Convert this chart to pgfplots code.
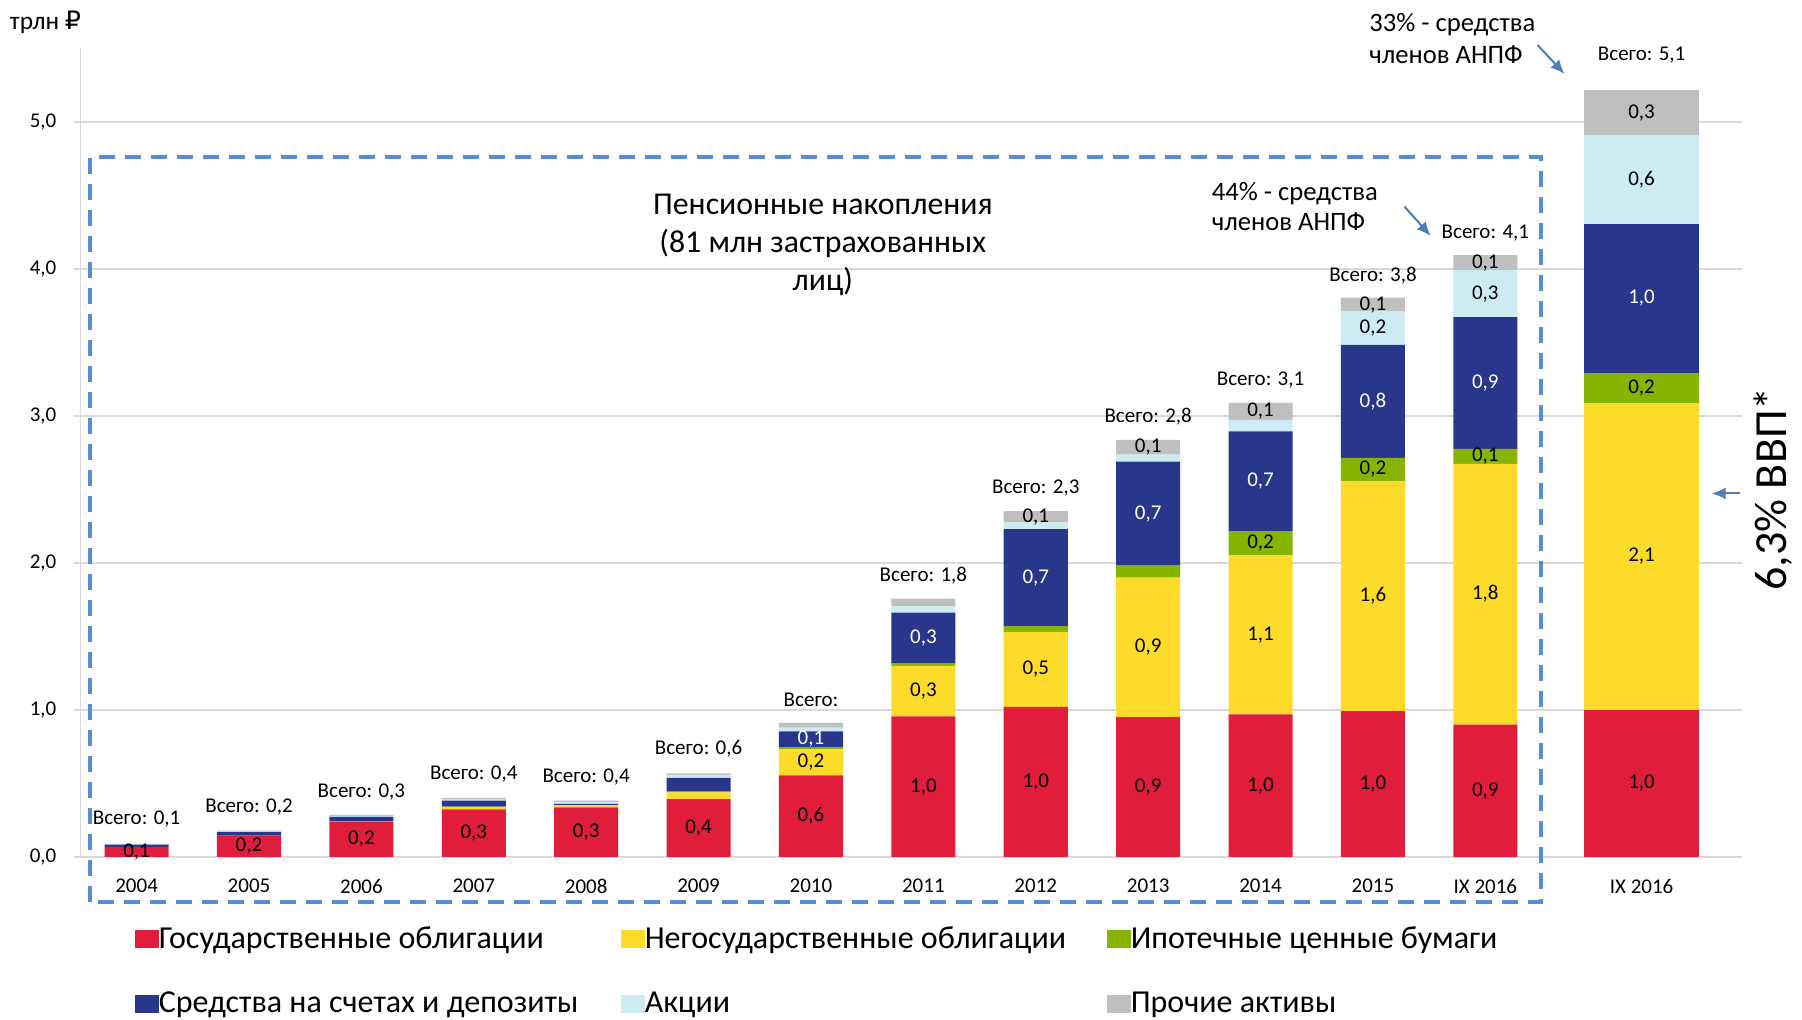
\documentclass[border=0pt]{standalone}
\usepackage{pgfplots}
\pgfplotsset{compat=1.18}
\usepackage{pgfplotstable}
\usepackage{fontspec}
\setmainfont{Carlito}
\newfontfamily\dejavu{DejaVu Sans}
\usetikzlibrary{arrows.meta}
\definecolor{cRed}{HTML}{E01E3C}
\definecolor{cYel}{HTML}{FDDB2A}
\definecolor{cGrn}{HTML}{86B400}
\definecolor{cBlu}{HTML}{28378C}
\definecolor{cLbl}{HTML}{CDEBF3}
\definecolor{cGry}{HTML}{BFBFBF}
\definecolor{gridc}{HTML}{D9D9D9}
\definecolor{annot}{HTML}{4A7EBB}
\definecolor{dashc}{HTML}{558ED5}

\pgfplotstableread{
x red yel grn blu lbl gry
0 0.068 0 0 0.016 0.003 0.003
1 0.146 0 0 0.025 0.004 0.005
2 0.239 0.002 0 0.032 0.006 0.008
3 0.324 0.016 0.002 0.041 0.008 0.012
4 0.337 0.014 0.002 0.008 0.010 0.012
5 0.394 0.045 0.009 0.091 0.016 0.014
6 0.555 0.177 0.016 0.107 0.025 0.032
7 0.956 0.344 0.018 0.344 0.043 0.052
8 1.021 0.510 0.039 0.660 0.046 0.077
9 0.951 0.949 0.082 0.708 0.047 0.100
10 0.971 1.081 0.164 0.679 0.078 0.117
11 0.992 1.565 0.158 0.768 0.228 0.094
12 0.901 1.774 0.101 0.896 0.320 0.102
}\maindata
\pgfplotstableread{
x red yel grn blu lbl gry
13.39 1.000 2.091 0.203 1.013 0.604 0.306
}\lastdata

\pgfplotsset{
  common/.style={
    at={(40.2pt,81.5pt)}, anchor=south west,
    scale only axis, width=830.6pt, height=404.25pt,
    xmin=-0.5, xmax=14.28, ymin=0, ymax=5.5,
    ybar stacked,
  },
}
\newcommand{\vl}[3]{\node[font=\fontsize{10.5}{12}\selectfont] at (axis cs:#1,#2) {#3};}
\newcommand{\vw}[3]{\node[font=\fontsize{10.5}{12}\selectfont, text=white] at (axis cs:#1,#2) {#3};}
\newcommand{\tl}[3]{\node[font=\fontsize{10.5}{12}\selectfont] at (axis cs:#1,#2) {Всего:#3};}

\newcommand{\mainlabels}{%
\vl{0}{0.034}{0,1}
\vl{1}{0.073}{0,2}
\vl{2}{0.12}{0,2}
\vl{3}{0.162}{0,3}
\vl{4}{0.169}{0,3}
\vl{5}{0.197}{0,4}
\vl{6}{0.278}{0,6}\vl{6}{0.644}{0,2}\vw{6}{0.80}{0,1}
\vl{7}{0.478}{1,0}\vl{7}{1.128}{0,3}\vw{7}{1.49}{0,3}
\vl{8}{0.51}{1,0}\vl{8}{1.276}{0,5}\vw{8}{1.90}{0,7}\vl{8}{2.3145}{0,1}
\vl{9}{0.476}{0,9}\vl{9}{1.4255}{0,9}\vw{9}{2.336}{0,7}\vl{9}{2.787}{0,1}
\vl{10}{0.486}{1,0}\vl{10}{1.5115}{1,1}\vl{10}{2.134}{0,2}\vw{10}{2.5555}{0,7}\vl{10}{3.0315}{0,1}
\vl{11}{0.496}{1,0}\vl{11}{1.7745}{1,6}\vl{11}{2.636}{0,2}\vw{11}{3.099}{0,8}\vl{11}{3.597}{0,2}\vl{11}{3.758}{0,1}
\vl{12}{0.4505}{0,9}\vl{12}{1.788}{1,8}\vl{12}{2.7255}{0,1}\vw{12}{3.224}{0,9}\vl{12}{3.832}{0,3}\vl{12}{4.043}{0,1}
\tl{0}{0.259}{ 0,1}
\tl{1}{0.343}{ 0,2}
\tl{2}{0.444}{ 0,3}
\tl{3}{0.562}{ 0,4}
\tl{4}{0.546}{ 0,4}
\tl{5}{0.735}{ 0,6}
\tl{6}{1.070}{}
\tl{7}{1.914}{ 1,8}
\tl{8}{2.510}{ 2,3}
\tl{9}{2.993}{ 2,8}
\tl{10}{3.245}{ 3,1}
\tl{11}{3.954}{ 3,8}
\tl{12}{4.245}{ 4,1}
}
\newcommand{\lastlabels}{%
\vl{13.39}{0.5}{1,0}\vl{13.39}{2.0455}{2,1}\vl{13.39}{3.1925}{0,2}\vw{13.39}{3.8005}{1,0}\vl{13.39}{4.609}{0,6}\vl{13.39}{5.064}{0,3}
\tl{13.39}{5.456}{ 5,1}
}

\begin{document}
\begin{tikzpicture}
\begin{axis}[common,
  bar width=0.57,
  axis lines*=left,
  x axis line style={draw=none},
  y axis line style={draw=gridc, line width=0.75pt},
  ymajorgrids, grid style={draw=gridc, line width=0.75pt},
  tick align=outside, major tick length=3pt,
  ytick={0,1,2,3,4,5},
  ytick style={draw=gridc, line width=0.75pt},
  xtick style={draw=none},
  xtick={0,1,2,3,4,5,6,7,8,9,10,11,12,13.39},
  xticklabels={2004,2005,2006,2007,2008,2009,2010,2011,2012,2013,2014,2015,IX 2016,IX 2016},
  xticklabel style={font=\fontsize{10.5}{12}\selectfont, yshift=-4.6pt},
  yticklabel style={font=\fontsize{10.5}{12}\selectfont, xshift=-5.5pt, /pgf/number format/.cd, use comma, fixed, fixed zerofill, precision=1, assume math mode=true},
  legend columns=3,
  legend image code/.code={\fill[#1] (0pt,-4.5pt) rectangle (7.5pt,4.5pt); \path (0pt,-4.5pt) rectangle (12pt,4.5pt);},
  legend style={at={(0.0325,-0.086)}, anchor=north west, draw=none, fill=none, inner sep=0pt,
    nodes={inner sep=0pt, font=\fontsize{16}{19}\selectfont}, row sep=20pt, column sep=0pt},
  legend cell align=left,
  after end axis/.code={\mainlabels},
]
\addplot[fill=cRed, draw=none] table[x=x,y=red]{\maindata};
\addlegendentry{\makebox[231pt][l]{Государственные облигации}}
\addplot[fill=cYel, draw=none] table[x=x,y=yel]{\maindata};
\addlegendentry{\makebox[231pt][l]{Негосударственные облигации}}
\addplot[fill=cGrn, draw=none] table[x=x,y=grn]{\maindata};
\addlegendentry{\makebox[231pt][l]{Ипотечные ценные бумаги}}
\addplot[fill=cBlu, draw=none] table[x=x,y=blu]{\maindata};
\addlegendentry{\makebox[231pt][l]{Средства на счетах и депозиты}}
\addplot[fill=cLbl, draw=none] table[x=x,y=lbl]{\maindata};
\addlegendentry{\makebox[231pt][l]{Акции}}
\addplot[fill=cGry, draw=none] table[x=x,y=gry]{\maindata};
\addlegendentry{\makebox[231pt][l]{Прочие активы}}
\end{axis}

\begin{axis}[common, hide axis, bar width=1.02, after end axis/.code={\lastlabels}]
\addplot[fill=cRed, draw=none] table[x=x,y=red]{\lastdata};
\addplot[fill=cYel, draw=none] table[x=x,y=yel]{\lastdata};
\addplot[fill=cGrn, draw=none] table[x=x,y=grn]{\lastdata};
\addplot[fill=cBlu, draw=none] table[x=x,y=blu]{\lastdata};
\addplot[fill=cLbl, draw=none] table[x=x,y=lbl]{\lastdata};
\addplot[fill=cGry, draw=none] table[x=x,y=gry]{\lastdata};
\end{axis}

\draw[dashc, line width=2pt, dash pattern=on 8pt off 5pt] (44.8pt,59pt) rectangle (770.5pt,431.3pt);

\node[anchor=west, inner sep=0pt, font=\fontsize{12.7}{14}\selectfont] at (4.8pt,499pt) {трлн {\dejavu ₽}};
\node[align=center, inner sep=0pt, font=\fontsize{15.9}{19}\selectfont] at (411.4pt,387.7pt) {Пенсионные накопления\\(81 млн застрахованных\\лиц)};
\node[anchor=west, align=left, inner sep=0pt, font=\fontsize{13.3}{16}\selectfont] at (684.5pt,490.5pt) {33\% - средства\\членов АНПФ};
\node[anchor=west, align=left, inner sep=0pt, font=\fontsize{13.3}{15}\selectfont] at (605.75pt,406.7pt) {44\% - средства\\членов АНПФ};
\draw[annot, line width=1pt, -{Latex[length=7pt,width=6pt]}] (768.75pt,487.5pt) -- (782.25pt,473pt);
\draw[annot, line width=1pt, -{Latex[length=7pt,width=6pt]}] (702.25pt,406.7pt) -- (715.35pt,392pt);
\draw[annot, line width=1pt, -{Latex[length=7pt,width=6pt]}] (870pt,263.25pt) -- (855.8pt,263.25pt);
\node[rotate=90, inner sep=0pt, font=\fontsize{23}{27}\selectfont] at (886.5pt,265.5pt) {6,3\% ВВП*};

\pgfresetboundingbox
\path (0pt,0pt) rectangle (901pt,510pt);
\end{tikzpicture}
\end{document}
